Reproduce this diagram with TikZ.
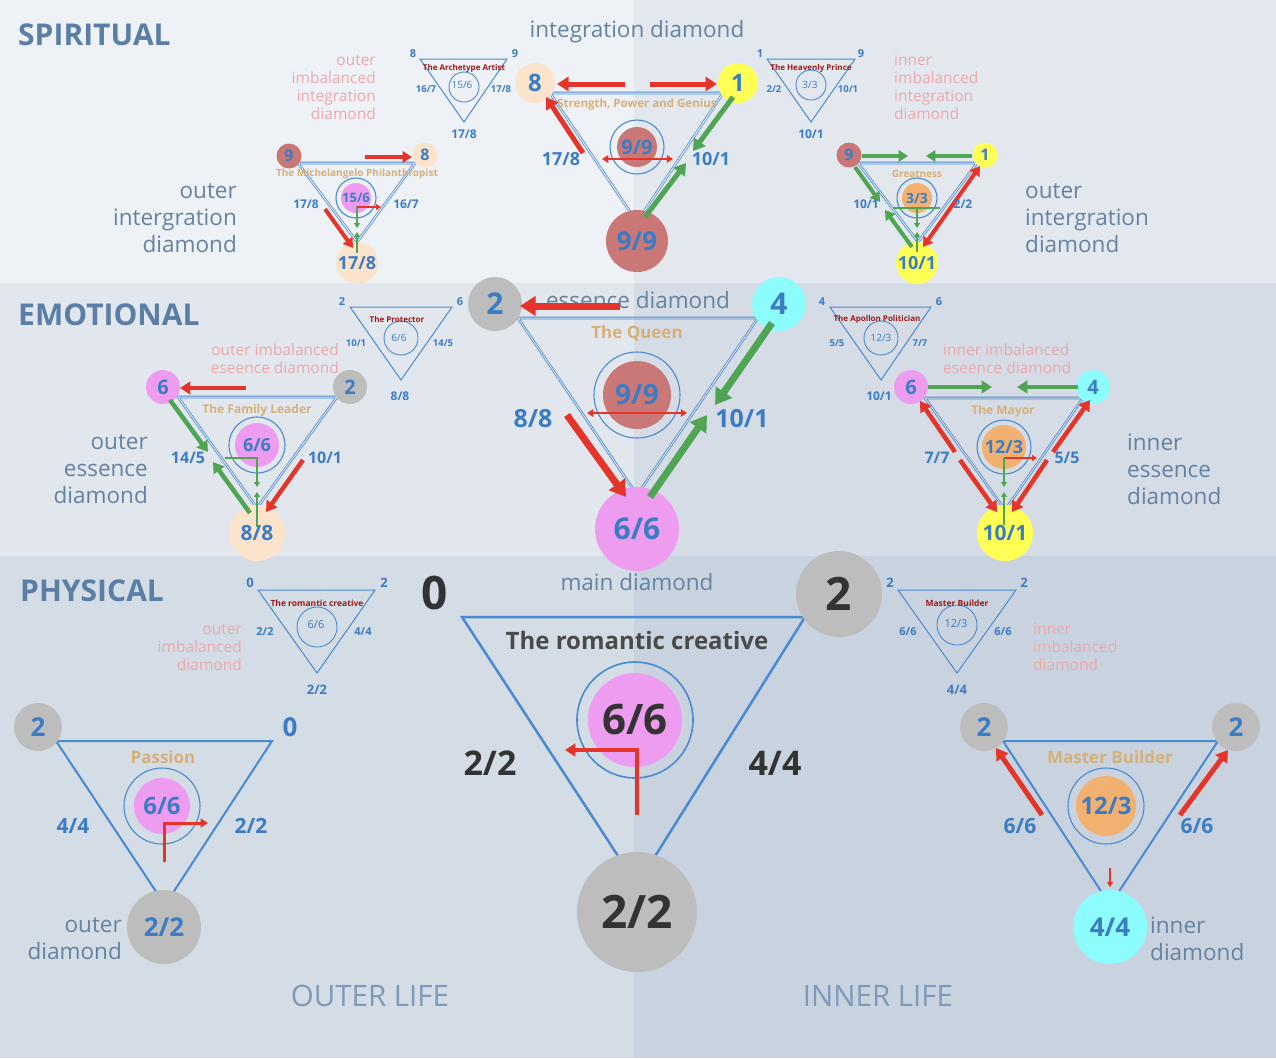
\documentclass[tikz,border=0pt]{standalone}
\usepackage{fontspec}
\setmainfont{Open Sans}
\usetikzlibrary{arrows.meta}
\definecolor{bgSL}{HTML}{EEF1F6}
\definecolor{bgSR}{HTML}{E3E8EF}
\definecolor{bgEL}{HTML}{E2E7EE}
\definecolor{bgER}{HTML}{D5DCE6}
\definecolor{bgPL}{HTML}{D4DCE5}
\definecolor{bgPR}{HTML}{C9D3DF}
\definecolor{bgMid}{HTML}{DCE2EA}
\definecolor{secblue}{HTML}{5A7EA6}
\definecolor{numblue}{HTML}{3B7CC3}
\definecolor{triblue}{HTML}{4A8AD0}
\definecolor{graytxt}{HTML}{6482A2}
\definecolor{lifetxt}{HTML}{7D9ABA}
\definecolor{fadered}{HTML}{EBA9AE}
\definecolor{goldt}{HTML}{D6B078}
\definecolor{darkred}{HTML}{9A1B1B}
\definecolor{darkt}{HTML}{333333}
\definecolor{romt}{HTML}{4A4A4A}
\definecolor{cRosy}{HTML}{C97777}
\definecolor{cPeach}{HTML}{FCE3CB}
\definecolor{cYellow}{HTML}{FFFF55}
\definecolor{cGray}{HTML}{BDBDBD}
\definecolor{cCyan}{HTML}{8CFCFC}
\definecolor{cPink}{HTML}{EE9CF0}
\definecolor{cOrange}{HTML}{F2B071}
\definecolor{redA}{HTML}{E5352A}
\definecolor{greenA}{HTML}{4FA553}
\newcommand\myfs[2]{\fontsize{#1}{#2}\selectfont}
\newcommand\arrw[4]{\coordinate (#1a) at (#3);\coordinate (#1b) at (#4);\draw[#2] (#1a) -- (#1b);}
\begin{document}
\begin{tikzpicture}[x=1pt,y=-1pt,
 >={Triangle[length=1pt 2.1,width=1pt 2.6]},
 dot/.style 2 args={circle,inner sep=0pt,minimum size=#2,fill=#1},
 ring/.style={circle,draw=triblue,line width=1.1pt,inner sep=0pt,minimum size=#1},
 num/.style={text=numblue,font=\myfs{#1}{#1}\bfseries,inner sep=0pt},
 dnum/.style={text=darkt,font=\myfs{#1}{#1}\bfseries,inner sep=0pt},
 ctr/.style={text=numblue,font=\myfs{10}{10},inner sep=0pt},
 gtxt/.style={text=graytxt,font=\myfs{22.5}{27},inner sep=0pt},
 rtxt/.style={text=fadered,font=\myfs{15.5}{18},inner sep=0pt},
 gold/.style={text=goldt,font=\myfs{#1}{#1}\bfseries,inner sep=0pt},
 dred/.style={text=darkred,font=\myfs{8}{8}\bfseries,inner sep=0pt},
 sec/.style={text=secblue,font=\myfs{30}{30}\bfseries,anchor=west,inner sep=0pt},
 life/.style={text=lifetxt,font=\myfs{29.5}{29.5},inner sep=0pt},
 tri/.style={draw=triblue,line width=#1},
 trid/.style={draw=triblue,line width=0.8pt,double=#1,double distance=1pt},
 ar/.style 2 args={draw=#1,line width=#2}]
\useasboundingbox (0,0) rectangle (1276,1058);
% backgrounds
\fill[bgSL] (0,0) rectangle (634,283);
\fill[bgSR] (634,0) rectangle (1276,283);
\fill[bgEL] (0,283) rectangle (634,556);
\fill[bgER] (634,283) rectangle (1276,556);
\fill[bgPL] (0,556) rectangle (634,1058);
\fill[bgPR] (634,556) rectangle (1276,1058);

% ================= SPIRITUAL =================
\node[sec] (tSp) at (18,35) {SPIRITUAL};
\node[gtxt] (tInt) at (637,32) {integration diamond};
\node[rtxt,align=right,anchor=east] (rOI) at (376,87) {outer\\imbalanced\\integration\\diamond};
\node[rtxt,align=left,anchor=west] (rII) at (894,87) {inner\\imbalanced\\integration\\diamond};
\node[gtxt,align=right,anchor=east] (gOI) at (237,218) {outer\\intergration\\diamond};
\node[gtxt,align=left,anchor=west] (gOI2) at (1025,218) {outer\\intergration\\diamond};

% Archetype Artist
\coordinate (aa1) at (420,59); \coordinate (aa2) at (507,59); \coordinate (aa3) at (464,122);
\draw[tri=1pt] (aa1)--(aa2)--(aa3)--cycle;
\node[ring=30pt,line width=0.9pt] (aar) at (464,87) {};
\node[num=11] (aan1) at (413,54) {8};
\node[num=11] (aan2) at (515,54) {9};
\node[num=9.5] (aan3) at (426,89) {16/7};
\node[num=9.5] (aan4) at (501,89) {17/8};
\node[num=12] (aan5) at (464,134) {17/8};
\node[dred] (aat) at (464,68) {The Archetype Artist};
\node[ctr] (aac) at (462,85) {15/6};

% Heavenly Prince
\coordinate (hp1) at (767,59); \coordinate (hp2) at (855,59); \coordinate (hp3) at (811,122);
\draw[tri=1pt] (hp1)--(hp2)--(hp3)--cycle;
\node[ring=30pt,line width=0.9pt] (hpr) at (811,85) {};
\node[num=11] (hpn1) at (760,54) {1};
\node[num=11] (hpn2) at (861,54) {9};
\node[num=9.5] (hpn3) at (774,89) {2/2};
\node[num=9.5] (hpn4) at (848,89) {10/1};
\node[num=12] (hpn5) at (811,134) {10/1};
\node[dred] (hpt) at (811,68) {The Heavenly Prince};
\node[ctr] (hpc) at (810,85) {3/3};

% main spiritual
\coordinate (sA) at (550,93); \coordinate (sB) at (723,93); \coordinate (sC) at (637,222);
\draw[trid=bgSL] (sA)--(sB)--(sC)--cycle;
\node[dot={cPeach}{40pt},num=24] (s8) at (535,83) {8};
\node[dot={cYellow}{40pt},num=24] (s1) at (738,83) {1};
\node[dot={cRosy}{62pt},num=26] (s99) at (637,241) {9/9};
\node[ring=54pt] (s9r) at (637,147) {};
\node[dot={cRosy}{40pt},num=20] (s9i) at (637,147) {9/9};
\node[gold=11.5] (sTit) at (637,105) {Strength, Power and Genius};
\arrw{sr1}{ar={redA}{5pt},->}{625,84}{557,84}
\arrw{sr2}{ar={redA}{5pt},->}{650,84}{717,84}
\arrw{sr3}{ar={redA}{5pt},->}{583,153}{546,97}
\arrw{sg1}{ar={greenA}{5pt},->}{733,97}{693,151}
\arrw{sg2}{ar={greenA}{5pt},->}{645,217}{686,163}
\arrw{sr4}{ar={redA}{2.5pt},<->}{602,159}{673,159}
\node[num=18] (s178) at (561,159) {17/8};
\node[num=18] (s101) at (711,159) {10/1};

% Michelangelo
\coordinate (m1) at (298,163); \coordinate (m2) at (415,163); \coordinate (m3) at (357,242);
\draw[trid=bgSL] (m1)--(m2)--(m3)--cycle;
\node[dot={cRosy}{25pt},num=16] (m9) at (289,156) {9};
\node[dot={cPeach}{25pt},num=16] (m8) at (425,155) {8};
\node[dot={cPeach}{42pt},num=18] (m178) at (357,263) {17/8};
\node[ring=40pt] (mrg) at (356,198) {};
\node[dot={cPink}{30pt},num=13] (mc) at (356,198) {15/6};
\node[gold=10] (mt) at (357,174) {The Michelangelo Philanthropist};
\arrw{mr1}{ar={redA}{4pt},->}{365,157}{412,157}
\arrw{mr2}{ar={redA}{4pt},->}{325,209}{353,248}
\arrw{mg1}{ar={greenA}{1.8pt},->}{357,206}{357,228}
\arrw{mg2}{ar={greenA}{1.8pt},->}{357,253}{357,232}
\arrw{mr3}{ar={redA}{1.8pt},->}{357,207}{381,207}
\node[num=12] (ml) at (306,204) {17/8};
\node[num=12] (mrl) at (406,204) {16/7};

% Greatness
\coordinate (g1c) at (858,163); \coordinate (g2c) at (977,163); \coordinate (g3c) at (918,242);
\draw[trid=bgSR] (g1c)--(g2c)--(g3c)--cycle;
\node[dot={cRosy}{25pt},num=16] (g9) at (849,155) {9};
\node[dot={cYellow}{25pt},num=16] (g1) at (985,155) {1};
\node[dot={cYellow}{42pt},num=18] (g101) at (917,263) {10/1};
\node[ring=40pt] (grg) at (917,198) {};
\node[dot={cOrange}{30pt},num=14] (gc) at (917,198) {3/3};
\node[gold=10] (gt) at (917,174) {Greatness};
\arrw{gg1}{ar={greenA}{4pt},->}{862,156}{908,156}
\arrw{gg2}{ar={greenA}{4pt},->}{972,156}{926,156}
\arrw{gg3}{ar={greenA}{4pt},->}{855,167}{880,202}
\arrw{gg4}{ar={greenA}{4pt},->}{912,247}{885,210}
\arrw{gr1}{ar={redA}{4pt},<->}{923,247}{980,166}
\arrw{gg5}{ar={greenA}{1.8pt}}{893,208}{940,208}
\arrw{gg6}{ar={greenA}{1.8pt},->}{917,207}{917,228}
\arrw{gg7}{ar={greenA}{1.8pt},->}{917,252}{917,232}
\node[num=12] (gl) at (866,204) {10/1};
\node[num=12] (grl) at (963,204) {2/2};

% ================= EMOTIONAL =================
\node[sec] (tEm) at (18,315) {EMOTIONAL};
\node[gtxt] (tEss) at (638,300) {essence diamond};
\node[rtxt,align=right,anchor=east] (rOE) at (339,359) {outer imbalanced\\eseence diamond};
\node[rtxt,align=left,anchor=west] (rIE) at (943,359) {inner imbalanced\\eseence diamond};
\node[gtxt,align=right,anchor=east] (gOE) at (148,469) {outer\\essence\\diamond};
\node[gtxt,align=left,anchor=west] (gIE) at (1127,469) {inner\\essence\\diamond};

% Protector
\coordinate (pr1) at (350,307); \coordinate (pr2) at (452,307); \coordinate (pr3) at (401,380);
\draw[tri=1pt] (pr1)--(pr2)--(pr3)--cycle;
\node[ring=34pt,line width=0.9pt] (prr) at (401,338) {};
\node[num=11] (prn1) at (342,302) {2};
\node[num=11] (prn2) at (460,302) {6};
\node[num=9.5] (prn3) at (356,343) {10/1};
\node[num=9.5] (prn4) at (443,343) {14/5};
\node[num=12] (prn5) at (400,396) {8/8};
\node[dred] (prt) at (397,319) {The Protector};
\node[ctr] (prc) at (399,338) {6/6};

% Apollon
\coordinate (ap1) at (830,307); \coordinate (ap2) at (931,307); \coordinate (ap3) at (881,380);
\draw[tri=1pt] (ap1)--(ap2)--(ap3)--cycle;
\node[ring=34pt,line width=0.9pt] (apr) at (881,338) {};
\node[num=11] (apn1) at (822,302) {4};
\node[num=11] (apn2) at (939,302) {6};
\node[num=9.5] (apn3) at (837,343) {5/5};
\node[num=9.5] (apn4) at (920,343) {7/7};
\node[num=12] (apn5) at (879,396) {10/1};
\node[dred] (apt) at (877,319) {The Apollon Politician};
\node[ctr] (apc) at (881,338) {12/3};

% main emotional
\coordinate (eA) at (518,318); \coordinate (eB) at (758,318); \coordinate (eC) at (637,495);
\draw[trid=bgMid] (eA)--(eB)--(eC)--cycle;
\node[dot={cGray}{54pt},num=30] (e2) at (495,304) {2};
\node[dot={cCyan}{54pt},num=30] (e4) at (779,304) {4};
\node[dot={cPink}{84pt},num=30] (e66) at (637,529) {6/6};
\node[ring=86pt] (erg) at (637,395) {};
\node[dot={cRosy}{68pt},num=28] (e99) at (637,395) {9/9};
\node[gold=17] (eT) at (637,333) {The Queen};
\arrw{er1}{ar={redA}{7pt},->}{620,306}{520,306}
\arrw{eg1}{ar={greenA}{7pt},->}{772,323}{715,405}
\arrw{eg2}{ar={greenA}{7pt},->}{650,497}{707,415}
\arrw{er2}{ar={redA}{7pt},->}{567,415}{626,497}
\arrw{er3}{ar={redA}{2.5pt},<->}{587,413}{687,413}
\node[num=25] (e88) at (533,419) {8/8};
\node[num=25] (e101) at (742,419) {10/1};

% Family Leader
\coordinate (f1c) at (178,397); \coordinate (f2c) at (337,397); \coordinate (f3c) at (257,508);
\draw[trid=bgEL] (f1c)--(f2c)--(f3c)--cycle;
\node[dot={cPink}{34pt},num=20] (f6) at (163,387) {6};
\node[dot={cGray}{34pt},num=20] (f2) at (350,387) {2};
\node[dot={cPeach}{56pt},num=21] (f88) at (257,533) {8/8};
\node[ring=56pt] (frg) at (257,445) {};
\node[dot={cPink}{44pt},num=18] (fc) at (257,445) {6/6};
\node[gold=12] (fT) at (257,410) {The Family Leader};
\arrw{fr1}{ar={redA}{4.5pt},->}{246,388}{180,388}
\arrw{fg1}{ar={greenA}{4.5pt},->}{170,400}{208,452}
\arrw{fg2}{ar={greenA}{4.5pt},->}{250,513}{213,462}
\arrw{fr2}{ar={redA}{4.5pt},->}{303,460}{266,512}
\coordinate (fe1) at (225,458); \coordinate (fe2) at (257,458); \coordinate (fe3) at (257,487);
\draw[ar={greenA}{1.8pt},->] (fe1)--(fe2)--(fe3);
\arrw{fg3}{ar={greenA}{1.8pt},->}{257,527}{257,492}
\node[num=16] (fl) at (188,458) {14/5};
\node[num=16] (frl) at (325,458) {10/1};

% Mayor
\coordinate (y1c) at (925,398); \coordinate (y2c) at (1083,398); \coordinate (y3c) at (1005,510);
\draw[trid=bgER] (y1c)--(y2c)--(y3c)--cycle;
\node[dot={cPink}{34pt},num=20] (y6) at (911,387) {6};
\node[dot={cCyan}{34pt},num=20] (y4) at (1093,387) {4};
\node[dot={cYellow}{56pt},num=21] (y101) at (1005,533) {10/1};
\node[ring=54pt] (yrg) at (1004,447) {};
\node[dot={cOrange}{44pt},num=18] (yc) at (1004,447) {12/3};
\node[gold=12] (yT) at (1003,411) {The Mayor};
\arrw{yg1}{ar={greenA}{4.5pt},->}{928,387}{992,387}
\arrw{yg2}{ar={greenA}{4.5pt},->}{1078,387}{1017,387}
\arrw{yr1}{ar={redA}{4.5pt},->}{955,452}{920,401}
\arrw{yr2}{ar={redA}{4.5pt},->}{960,460}{997,512}
\arrw{yr3}{ar={redA}{4.5pt},->}{1053,452}{1090,400}
\arrw{yr4}{ar={redA}{4.5pt},->}{1047,460}{1012,512}
\arrw{yr5}{ar={redA}{1.8pt},->}{1004,458}{1037,458}
\arrw{yg3}{ar={greenA}{1.8pt},->}{1004,458}{1004,487}
\arrw{yg4}{ar={greenA}{1.8pt},->}{1004,525}{1004,492}
\node[num=16] (yl) at (937,458) {7/7};
\node[num=16] (yrl) at (1067,458) {5/5};

% ================= PHYSICAL =================
\node[sec] (tPh) at (20,591) {PHYSICAL};
\node[gtxt] (tMain) at (637,582) {main diamond};
\node[rtxt,align=right,anchor=east] (rOP) at (242,647) {outer\\imbalanced\\diamond};
\node[rtxt,align=left,anchor=west] (rIP) at (1033,647) {inner\\imbalanced\\diamond};

% small romantic creative
\coordinate (rc1) at (258,590); \coordinate (rc2) at (375,590); \coordinate (rc3) at (317,673);
\draw[tri=1pt] (rc1)--(rc2)--(rc3)--cycle;
\node[ring=40pt,line width=0.9pt] (rcr) at (317,627) {};
\node[num=13] (rcn1) at (250,583) {0};
\node[num=13] (rcn2) at (384,583) {2};
\node[num=11] (rcn3) at (265,632) {2/2};
\node[num=11] (rcn4) at (363,632) {4/4};
\node[num=13] (rcn5) at (317,690) {2/2};
\node[dred,font=\myfs{8.5}{8.5}\bfseries] (rct) at (317,603) {The romantic creative};
\node[ctr,font=\myfs{11}{11}] (rcc) at (316,625) {6/6};

% small master builder
\coordinate (mb1) at (898,590); \coordinate (mb2) at (1016,590); \coordinate (mb3) at (957,673);
\draw[tri=1pt] (mb1)--(mb2)--(mb3)--cycle;
\node[ring=40pt,line width=0.9pt] (mbr) at (957,625) {};
\node[num=13] (mbn1) at (890,583) {2};
\node[num=13] (mbn2) at (1024,583) {2};
\node[num=11] (mbn3) at (908,632) {6/6};
\node[num=11] (mbn4) at (1003,632) {6/6};
\node[num=13] (mbn5) at (957,690) {4/4};
\node[dred,font=\myfs{8.5}{8.5}\bfseries] (mbt) at (957,603) {Master Builder};
\node[ctr,font=\myfs{11}{11}] (mbc) at (956,624) {12/3};

% main physical
\coordinate (pA) at (462,617); \coordinate (pB) at (805,617); \coordinate (pC) at (637,885);
\draw[tri=2.5pt] (pA)--(pB)--(pC)--cycle;
\node[dnum=46] (p0) at (435,593) {0};
\node[dot={cGray}{86pt},dnum=46] (p2) at (839,594) {2};
\node[dot={cGray}{120pt},dnum=46] (p22) at (637,912) {2/2};
\node[ring=116pt,line width=1.6pt] (prg) at (635,720) {};
\node[dot={cPink}{94pt},dnum=42] (p66) at (635,720) {6/6};
\node[text=romt,font=\myfs{24}{24}\bfseries,inner sep=0pt] (pT) at (637,640) {The romantic creative};
\coordinate (pe1) at (637,815); \coordinate (pe2) at (637,750); \coordinate (pe3) at (565,750);
\draw[ar={redA}{4.5pt},->] (pe1)--(pe2)--(pe3);
\node[dnum=34] (pl) at (490,763) {2/2};
\node[dnum=34] (prl) at (775,763) {4/4};

% Passion (outer)
\coordinate (q1c) at (56,741); \coordinate (q2c) at (272,741); \coordinate (q3c) at (165,905);
\draw[tri=2pt] (q1c)--(q2c)--(q3c)--cycle;
\node[dot={cGray}{48pt},num=26] (q2) at (38,727) {2};
\node[num=26] (q0) at (290,727) {0};
\node[dot={cGray}{74pt},num=26] (q22) at (164,927) {2/2};
\node[ring=76pt] (qrg) at (162,806) {};
\node[dot={cPink}{56pt},num=24] (qc) at (162,806) {6/6};
\node[gold=17] (qT) at (163,757) {Passion};
\coordinate (qe1) at (164,862); \coordinate (qe2) at (164,823); \coordinate (qe3) at (208,823);
\draw[ar={redA}{3pt},->] (qe1)--(qe2)--(qe3);
\node[num=21] (ql) at (73,826) {4/4};
\node[num=21] (qrl) at (251,826) {2/2};
\node[gtxt,align=right,anchor=east] (gOD) at (122,939) {outer\\diamond};

% Master Builder (inner)
\coordinate (b1c) at (1003,741); \coordinate (b2c) at (1218,741); \coordinate (b3c) at (1110,905);
\draw[tri=2pt] (b1c)--(b2c)--(b3c)--cycle;
\node[dot={cGray}{48pt},num=26] (b2) at (984,727) {2};
\node[dot={cGray}{48pt},num=26] (b2r) at (1236,727) {2};
\node[dot={cCyan}{74pt},num=26] (b44) at (1110,927) {4/4};
\node[ring=76pt] (brg) at (1106,806) {};
\node[dot={cOrange}{60pt},num=24] (bc) at (1106,806) {12/3};
\node[gold=17] (bT) at (1110,757) {Master Builder};
\arrw{br1}{ar={redA}{5pt},->}{1042,815}{996,748}
\arrw{br2}{ar={redA}{5pt},->}{1180,815}{1228,750}
\arrw{br3}{ar={redA}{2pt},->}{1110,868}{1110,887}
\node[num=21] (bl) at (1020,826) {6/6};
\node[num=21] (brl) at (1197,826) {6/6};
\node[gtxt,align=left,anchor=west] (gID) at (1150,939) {inner\\diamond};

\node[life] (tOL) at (370,996) {OUTER LIFE};
\node[life] (tIL) at (878,996) {INNER LIFE};
\end{tikzpicture}
\end{document}
